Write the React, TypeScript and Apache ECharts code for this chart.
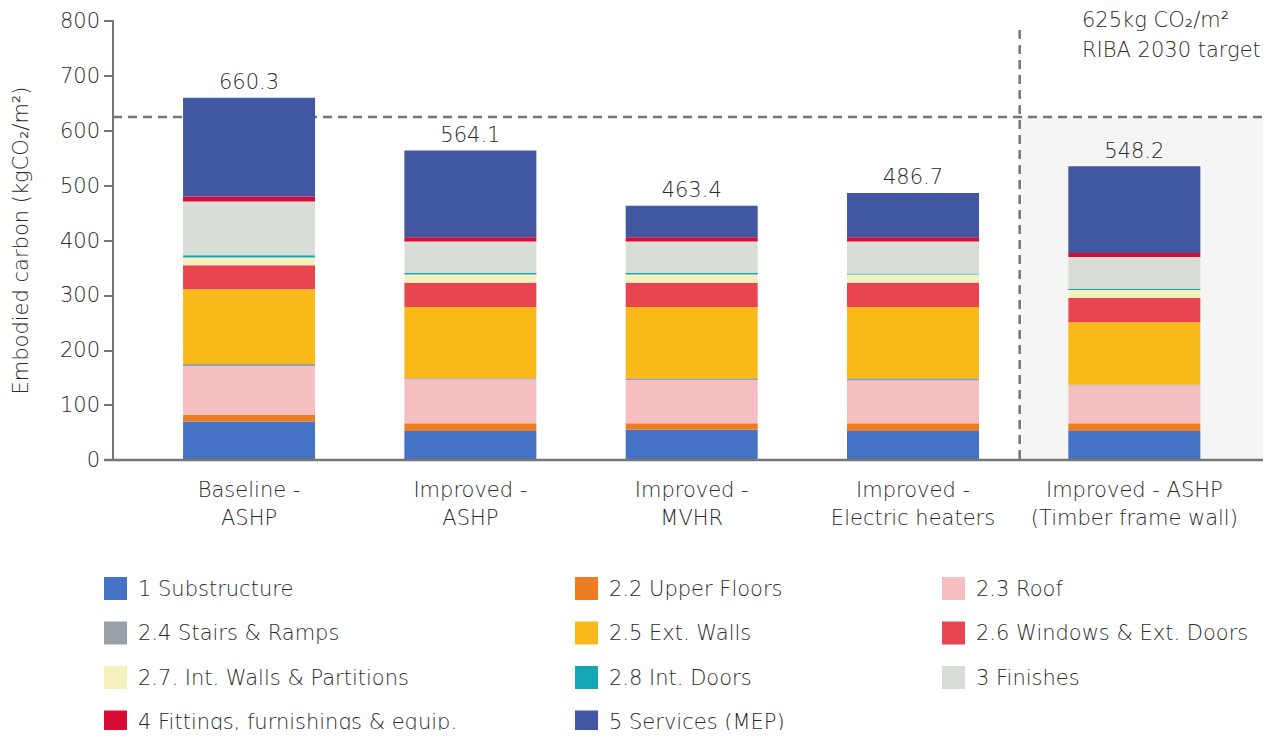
import React, { useEffect, useRef } from "react";
import * as echarts from "echarts";

const categories = [
  "Baseline -\nASHP",
  "Improved -\nASHP",
  "Improved -\nMVHR",
  "Improved -\nElectric heaters",
  "Improved - ASHP\n(Timber frame wall)",
];
const seriesNames = [
  "1 Substructure",
  "2.2 Upper Floors",
  "2.3 Roof",
  "2.4 Stairs & Ramps",
  "2.5 Ext. Walls",
  "2.6 Windows & Ext. Doors",
  "2.7. Int. Walls & Partitions",
  "2.8 Int. Doors",
  "3 Finishes",
  "4 Fittings, furnishings & equip.",
  "5 Services (MEP)",
];
const substructure = [70, 53, 55, 53, 53];
const upperFloors = [12, 14, 12, 14, 14];
const roof = [89, 80, 79, 78, 69];
const stairs = [4, 2, 3, 4, 1];
const extWalls = [136, 130, 130, 130, 114];
const windows = [44, 44, 44, 44, 44];
const intWalls = [14, 15, 15, 15, 15];
const intDoors = [4, 3, 3, 2, 2];
const finishes = [98, 57, 57, 58, 58];
const fittings = [9, 8, 8, 8, 7];
const services = [180.3, 158.1, 57.4, 80.7, 158.5];
const totalLabels = ["660.3", "564.1", "463.4", "486.7", "548.2"];
const yTicks = [0, 100, 200, 300, 400, 500, 600, 700, 800];
const targetValue = 625;

const seriesData = [
  substructure, upperFloors, roof, stairs, extWalls, windows,
  intWalls, intDoors, finishes, fittings, services,
];
const colors = [
  "#4472C4", "#ED7D22", "#F5BEC0", "#99A0A8", "#F9B918", "#E84550",
  "#F5F1BC", "#17A6B6", "#D8DDD8", "#D80C33", "#4257A2",
];

const FONT = "DejaVu Sans";
const WEIGHT = 200;
const TXT = "#2b2b2b";
const AXIS = "#767676";

export default function App() {
  const ref = useRef<HTMLDivElement>(null);
  useEffect(() => {
    if (!ref.current) return;
    const chart = echarts.init(ref.current, null, { renderer: "svg" });
    const legendText = {
      fontFamily: FONT,
      fontSize: 21,
      fontWeight: WEIGHT,
      color: TXT,
      padding: [0, 0, 0, 6],
    };
    const mkLegend = (left: number, names: string[]) => ({
      orient: "vertical",
      left,
      top: 577,
      padding: 0,
      itemWidth: 23,
      itemHeight: 23,
      itemGap: 21.5,
      icon: "rect",
      selectedMode: false,
      textStyle: legendText,
      data: names,
    });
    const option: any = {
      animation: false,
      color: colors,
      textStyle: { fontFamily: FONT },
      grid: { left: 138.4, right: 31, top: 21, bottom: 278, containLabel: false },
      legend: [
        mkLegend(104, [seriesNames[0], seriesNames[3], seriesNames[6], seriesNames[9]]),
        mkLegend(575, [seriesNames[1], seriesNames[4], seriesNames[7], seriesNames[10]]),
        mkLegend(942, [seriesNames[2], seriesNames[5], seriesNames[8]]),
      ],
      xAxis: {
        type: "category",
        data: categories,
        axisLine: { show: false },
        axisTick: { show: false },
        axisLabel: {
          interval: 0,
          margin: 16,
          fontFamily: FONT,
          fontSize: 21,
          fontWeight: WEIGHT,
          color: TXT,
          lineHeight: 28,
        },
      },
      yAxis: {
        type: "value",
        min: yTicks[0],
        max: yTicks[yTicks.length - 1],
        interval: 100,
        offset: 25.4,
        name: "Embodied carbon (kgCO\u2082/m\u00b2)",
        nameLocation: "middle",
        nameGap: 82,
        nameTextStyle: {
          fontFamily: FONT,
          fontSize: 21,
          fontWeight: WEIGHT,
          color: TXT,
        },
        splitLine: { show: false },
        axisLine: { show: true, lineStyle: { color: AXIS, width: 2 } },
        axisTick: { show: true, length: 9, lineStyle: { color: AXIS, width: 2 } },
        axisLabel: {
          margin: 13,
          fontFamily: FONT,
          fontSize: 21,
          fontWeight: WEIGHT,
          color: TXT,
        },
      },
      series: seriesNames.map((name, i) => ({
        name,
        type: "bar",
        stack: "total",
        barWidth: 132,
        z: 3,
        data: seriesData[i],
        label:
          i === seriesNames.length - 1
            ? {
                show: true,
                position: "top",
                distance: 5,
                fontFamily: FONT,
                fontSize: 21,
                fontWeight: WEIGHT,
                color: TXT,
                formatter: (p: any) => totalLabels[p.dataIndex],
              }
            : { show: false },
      })),
    };
    chart.setOption(option);

    const y0 = chart.convertToPixel({ yAxisIndex: 0 }, 0) as number;
    const yT = chart.convertToPixel({ yAxisIndex: 0 }, targetValue) as number;
    const x4 = chart.convertToPixel({ xAxisIndex: 0 }, 3) as number;
    const x5 = chart.convertToPixel({ xAxisIndex: 0 }, 4) as number;
    const xDiv = (x4 + x5) / 2 - 4;
    const yAxisX = 113;
    const rightEnd = 1263;
    const dash = { stroke: AXIS, lineWidth: 2.5, lineDash: [9, 6] };
    chart.setOption({
      graphic: [
        {
          type: "rect",
          z: 0,
          silent: true,
          shape: { x: xDiv, y: yT, width: rightEnd - xDiv, height: y0 - yT },
          style: { fill: "#F5F5F5" },
        },
        {
          type: "line",
          z: 1,
          silent: true,
          shape: { x1: yAxisX, y1: yT, x2: rightEnd + 8, y2: yT },
          style: dash,
        },
        {
          type: "line",
          z: 1,
          silent: true,
          shape: { x1: xDiv, y1: 30, x2: xDiv, y2: y0 },
          style: dash,
        },
        {
          type: "line",
          z: 10,
          silent: true,
          shape: { x1: yAxisX - 9, y1: y0, x2: rightEnd, y2: y0 },
          style: { stroke: AXIS, lineWidth: 2.5 },
        },
        {
          type: "text",
          z: 10,
          left: 1082,
          top: 5,
          style: {
            text: "625kg CO\u2082/m\u00b2\nRIBA 2030 target",
            fontFamily: FONT,
            fontSize: 21,
            fontWeight: WEIGHT,
            fill: TXT,
            lineHeight: 30,
          },
        },
      ],
    });
    return () => chart.dispose();
  }, []);
  return <div ref={ref} style={{ width: 1276, height: 738, margin: -8 }} />;
}
